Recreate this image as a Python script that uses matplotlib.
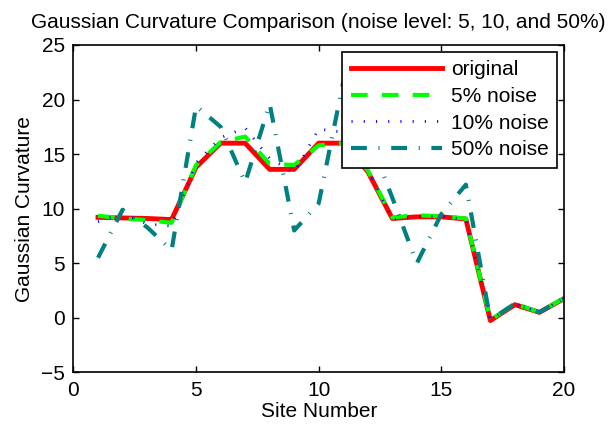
import numpy as np
import matplotlib
matplotlib.use("Agg")
import matplotlib.pyplot as plt

plt.rcParams['font.family'] = ['Liberation Sans', 'DejaVu Sans']
plt.rcParams['font.size'] = 15

# site index and curvature values
sites = np.arange(1, 21)
original = [9.2, 9.15, 9.1, 9.0, 13.8, 16.0, 16.0, 13.6, 13.6, 16.0,
            16.0, 13.4, 9.1, 9.25, 9.25, 9.05, -0.25, 1.2, 0.5, 1.75]
noise5 = [9.35, 9.1, 8.95, 8.7, 14.0, 16.1, 16.6, 14.1, 14.0, 15.8,
          16.0, 13.5, 9.2, 9.4, 9.3, 9.1, -0.2, 1.3, 0.5, 1.8]
noise10 = [8.8, 9.6, 8.6, 8.4, 14.2, 16.5, 17.4, 14.6, 13.3, 17.3,
           17.0, 13.6, 9.0, 9.3, 9.3, 9.0, -0.2, 1.3, 0.5, 1.8]
noise50 = [5.5, 9.9, 8.3, 6.2, 19.4, 17.5, 12.4, 19.6, 8.0, 10.5,
           21.6, 16.8, 11.0, 5.0, 9.5, 12.2, -0.2, 1.3, 0.5, 1.8]
labels = ['original', '5% noise', '10% noise', '50% noise']

fig = plt.figure(figsize=(6.15, 4.32), dpi=100)
ax = fig.add_axes([0.1195, 0.138, 0.7975, 0.758])

ax.plot(sites, original, color='#ff0000', lw=3.5, label=labels[0])
ax.plot(sites, noise5, color='#00ff00', lw=3, ls=(0, (4.0, 3.4)), label=labels[1])
ax.plot(sites, noise10, color='#0000ff', lw=2, ls=(0, (0.4, 4.0)), label=labels[2])
ax.plot(sites, noise50, color='#008080', lw=3, ls=(0, (3.8, 2.8, 0.25, 2.8)), label=labels[3])

ax.set_xlim(0, 20)
ax.set_ylim(-5, 25)
ax.set_xticks([0, 5, 10, 15, 20])
ax.set_yticks([-5, 0, 5, 10, 15, 20, 25])
ax.tick_params(direction='in', top=True, right=True, length=4, width=1, pad=6)
for s in ax.spines.values():
    s.set_linewidth(1.2)

ax.set_title('Gaussian Curvature Comparison (noise level: 5, 10, and 50%)',
             fontsize=15, pad=12)
ax.set_xlabel('Site Number', labelpad=1.5)
ax.set_ylabel('Gaussian Curvature', labelpad=5)

leg = ax.legend(loc='upper right', handlelength=4.4, handletextpad=0.4,
                labelspacing=0.37, borderaxespad=0.34, fancybox=False,
                framealpha=1, edgecolor='black', borderpad=0.4)
leg.get_frame().set_linewidth(1.2)

fig.savefig('out.png', dpi=100)
